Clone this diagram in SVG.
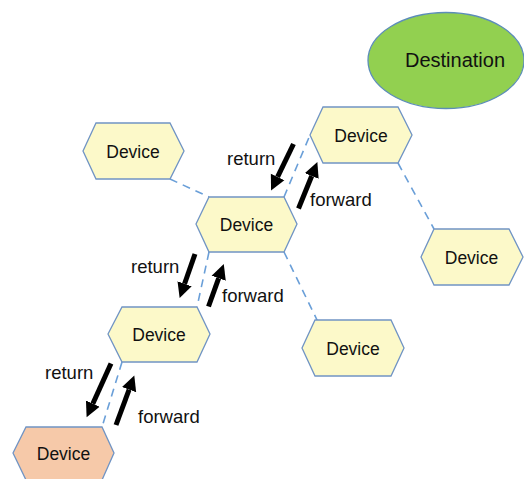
<svg xmlns="http://www.w3.org/2000/svg" width="524" height="479" viewBox="0 0 524 479">
<defs>
<style>
.hex{fill:#FCF9C9;stroke:#7094C4;stroke-width:1.3}
.src{fill:#F6C9A9;stroke:#7094C4;stroke-width:1.3}
.dst{fill:#92D050;stroke:#5C8DB8;stroke-width:1.3}
.lbl{font-family:"Liberation Sans",Arial,sans-serif;font-size:17.5px;fill:#111;text-anchor:middle}
.dl{font-family:"Liberation Sans",Arial,sans-serif;font-size:18.5px;fill:#111}
.dash{stroke:#6A9FD8;stroke-width:1.6;stroke-dasharray:8,6;fill:none}
.arr{stroke:#000;stroke-width:5;fill:none;marker-end:url(#ah)}
</style>
<marker id="ah" markerUnits="userSpaceOnUse" markerWidth="16" markerHeight="16" refX="0" refY="7.5" orient="auto" viewBox="0 0 16 15">
<path d="M0,0 L15,7.5 L0,15 z" fill="#000"/>
</marker>
</defs>
<g id="connectors">
<line class="dash" x1="170" y1="179" x2="209" y2="197"/>
<line class="dash" x1="284" y1="197" x2="310" y2="135"/>
<line class="dash" x1="398" y1="163" x2="434" y2="229"/>
<line class="dash" x1="209" y1="252" x2="197" y2="307"/>
<line class="dash" x1="284" y1="252" x2="318" y2="322"/>
<line class="dash" x1="122" y1="362" x2="102" y2="427"/>
</g>
<g id="arrows">
<line class="arr" x1="293.5" y1="144" x2="277.6" y2="176.9"/>
<line class="arr" x1="298.5" y1="208.5" x2="311.7" y2="176"/>
<line class="arr" x1="195" y1="254" x2="184.6" y2="283.8"/>
<line class="arr" x1="208.5" y1="306.5" x2="218.7" y2="278.2"/>
<line class="arr" x1="111" y1="363.5" x2="92.8" y2="403.7"/>
<line class="arr" x1="116" y1="425" x2="129.1" y2="389.6"/>
<text class="dl" x="227" y="165">return</text>
<text class="dl" x="310" y="206">forward</text>
<text class="dl" x="131" y="273">return</text>
<text class="dl" x="222" y="302">forward</text>
<text class="dl" x="45" y="379">return</text>
<text class="dl" x="138" y="422.5">forward</text>
</g>
<g id="destination">
<ellipse class="dst" cx="446" cy="60.5" rx="78" ry="48"/>
<text class="lbl" x="455" y="67" style="font-size:20px">Destination</text>
</g>
<g id="device1">
<polygon class="hex" points="83,151 96,123 170,123 184,151 170,179 96,179"/>
<text class="lbl" x="133" y="157.5">Device</text>
</g>
<g id="device2">
<polygon class="hex" points="196,224 209,197 284,197 297,224 284,252 209,252"/>
<text class="lbl" x="246.5" y="231">Device</text>
</g>
<g id="device3">
<polygon class="hex" points="310,135 323,107 398,107 412,135 398,163 323,163"/>
<text class="lbl" x="361" y="141.5">Device</text>
</g>
<g id="device4">
<polygon class="hex" points="421,257 434,229 509,229 523,257 509,285 434,285"/>
<text class="lbl" x="471.5" y="264">Device</text>
</g>
<g id="device5">
<polygon class="hex" points="302,348 315,320 391,320 404,348 391,376 315,376"/>
<text class="lbl" x="353" y="354.5">Device</text>
</g>
<g id="device6">
<polygon class="hex" points="108,334 122,307 197,307 210,334 197,362 122,362"/>
<text class="lbl" x="159" y="340.5">Device</text>
</g>
<g id="device7">
<polygon class="src" points="13,453 26,427 102,427 114,453 102,480 26,480"/>
<text class="lbl" x="63.5" y="459.5">Device</text>
</g>
</svg>
